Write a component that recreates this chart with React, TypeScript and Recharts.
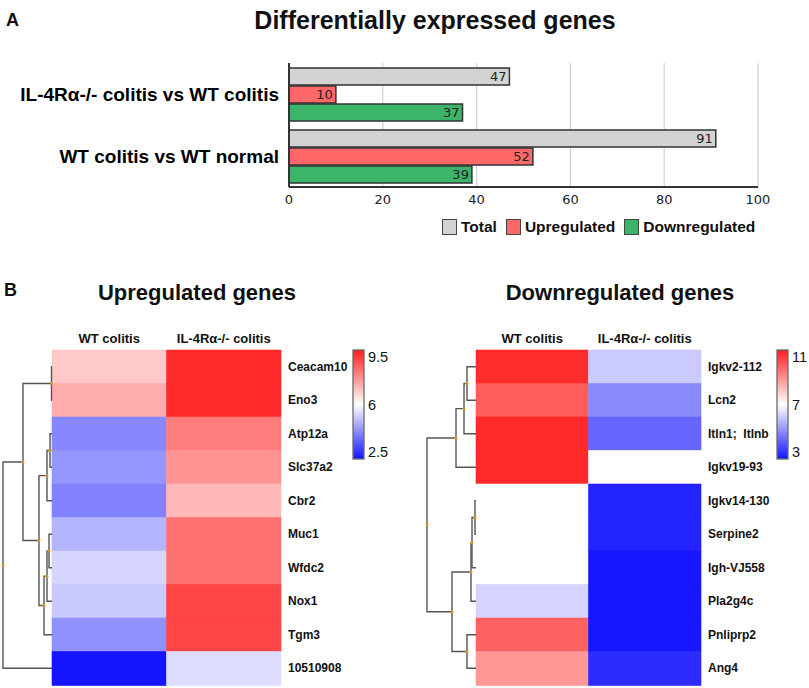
import React from 'react';
import { BarChart, Bar, XAxis, YAxis, CartesianGrid, Cell, LabelList } from 'recharts';

// ---------- Panel A data ----------
const comparisons = ['IL-4Rα-/- colitis vs WT colitis', 'WT colitis vs WT normal'];
const totalCounts = [47, 91];
const upCounts = [10, 52];
const downCounts = [37, 39];
const countTicks = [0, 20, 40, 60, 80, 100];
const seriesNames = ['Total', 'Upregulated', 'Downregulated'];
const seriesColors = ['#d3d3d3', '#ff6868', '#3cb46a'];

// ---------- Panel B data ----------
const heatColumns = ['WT colitis', 'IL-4Rα-/- colitis'];

const upGenes = ['Ceacam10', 'Eno3', 'Atp12a', 'Slc37a2', 'Cbr2', 'Muc1', 'Wfdc2', 'Nox1', 'Tgm3', '10510908'];
const upWT = [6.84, 7.27, 4.22, 4.43, 4.14, 4.9, 5.38, 5.2, 4.35, 2.5];
const upKO = [9.3, 9.3, 8.03, 7.68, 7.1, 8.2, 8.2, 8.9, 8.9, 5.5];
const upScale = [2.5, 6, 9.5];
const upScaleLabels = ['9.5', '6', '2.5'];
// merges: [childA, childB, height]; leaves 0..9, merge k becomes node 10+k
const upTree: [number, number, number][] = [
  [0, 1, 0.5], [2, 3, 2], [11, 4, 5], [5, 6, 3], [13, 7, 5], [14, 8, 8], [12, 15, 13], [10, 16, 29], [17, 9, 49],
];

const downGenes = ['Igkv2-112', 'Lcn2', 'Itln1;  Itlnb', 'Igkv19-93', 'Igkv14-130', 'Serpine2', 'Igh-VJ558', 'Pla2g4c', 'Pnliprp2', 'Ang4'];
const downWT = [10.75, 9.9, 10.8, 10.8, 7.0, 7.0, 7.0, 6.27, 9.8, 8.85];
const downKO = [6.1, 5.0, 4.4, 7.0, 3.25, 3.25, 3.05, 3.05, 3.05, 3.4];
const downScale = [3, 7, 11];
const downScaleLabels = ['11', '7', '3'];
const downTree: [number, number, number][] = [
  [0, 1, 9], [10, 2, 12], [11, 3, 20], [4, 5, 1], [13, 6, 4], [14, 7, 5], [8, 9, 9], [15, 16, 24], [12, 17, 49],
];

const SANS = '"Liberation Sans", Arial, Helvetica, sans-serif';
const NUM = '"DejaVu Sans", Verdana, sans-serif';

const HI = [255, 30, 30];
const LO = [20, 20, 255];

function heatColor(v: number, scale: number[]) {
  const [mn, md, mx] = scale;
  let t: number;
  let c: number[];
  if (v >= md) {
    t = Math.min(1, (v - md) / (mx - md));
    c = HI;
  } else {
    t = Math.min(1, (md - v) / (md - mn));
    c = LO;
  }
  const r = Math.round(255 + (c[0] - 255) * t);
  const g = Math.round(255 + (c[1] - 255) * t);
  const b = Math.round(255 + (c[2] - 255) * t);
  return `rgb(${r},${g},${b})`;
}

function Dendrogram({ tree, n, leafX, top, plotH }: { tree: [number, number, number][]; n: number; leafX: number; top: number; plotH: number }) {
  const rowH = plotH / n;
  const pos: { x: number; y: number }[] = [];
  for (let i = 0; i < n; i++) pos.push({ x: leafX, y: top + (i + 0.5) * rowH });
  const paths: React.ReactNode[] = [];
  const dots: React.ReactNode[] = [];
  tree.forEach(([a, b, h], k) => {
    const x = leafX - h;
    const pa = pos[a];
    const pb = pos[b];
    const y = (pa.y + pb.y) / 2;
    paths.push(<path key={'p' + k} d={`M${pa.x},${pa.y}H${x}V${pb.y}H${pb.x}`} fill="none" stroke="#555" strokeWidth={1.4} />);
    dots.push(<circle key={'d' + k} cx={x} cy={y} r={1.5} fill="#d49a1a" />);
    pos.push({ x, y });
  });
  return <g>{paths}{dots}</g>;
}

function ColorBar({ id, x, y, w, h, labels }: { id: string; x: number; y: number; w: number; h: number; labels: string[] }) {
  const lo = `rgb(${LO.join(',')})`;
  const hi = `rgb(${HI.join(',')})`;
  return (
    <g>
      <defs>
        <linearGradient id={id} x1="0" y1="0" x2="0" y2="1">
          <stop offset="0%" stopColor={hi} />
          <stop offset="50%" stopColor="#ffffff" />
          <stop offset="100%" stopColor={lo} />
        </linearGradient>
      </defs>
      <rect x={x} y={y} width={w} height={h} fill={`url(#${id})`} stroke="#6a6a6a" strokeWidth={1.3} />
      {labels.map((l, i) => (
        <text key={i} x={x + w + 4} y={y + 7 + (i * (h - 14)) / (labels.length - 1)} dy="0.35em" fontFamily={SANS} fontSize={14.5} fill="#111">
          {l}
        </text>
      ))}
    </g>
  );
}

function GeneTick(props: any) {
  const { x, y, payload } = props;
  return (
    <text x={x} y={y} dy="0.35em" textAnchor="start" fontFamily={SANS} fontWeight="bold" fontSize={12} fill="#111" style={{ whiteSpace: 'pre' }}>
      {payload.value}
    </text>
  );
}

function Heatmap({ genes, wt, ko, scale, left, top, width, height, margin }: any) {
  const rows = genes.map((g: string, i: number) => ({ gene: g, wtCell: 1, koCell: 1, wt: wt[i], ko: ko[i] }));
  return (
    <div style={{ position: 'absolute', left, top }}>
      <BarChart width={width} height={height} data={rows} layout="vertical" margin={margin} barCategoryGap={0}>
        <XAxis
          type="number"
          orientation="top"
          domain={[0, 2]}
          ticks={[0.5, 1.5]}
          interval={0}
          tickFormatter={(v: number) => heatColumns[Math.floor(v)]}
          axisLine={false}
          tickLine={false}
          tickSize={0}
          tickMargin={7}
          height={20}
          tick={{ fontSize: 13, fontWeight: 'bold', fill: '#111', fontFamily: SANS }}
        />
        <YAxis
          type="category"
          dataKey="gene"
          orientation="right"
          width={79}
          interval={0}
          axisLine={false}
          tickLine={false}
          tickSize={0}
          tickMargin={7}
          tick={<GeneTick />}
        />
        <Bar dataKey="wtCell" stackId="h" isAnimationActive={false}>
          {rows.map((r: any, i: number) => (
            <Cell key={i} fill={heatColor(r.wt, scale)} stroke={heatColor(r.wt, scale)} strokeWidth={0.6} />
          ))}
        </Bar>
        <Bar dataKey="koCell" stackId="h" isAnimationActive={false}>
          {rows.map((r: any, i: number) => (
            <Cell key={i} fill={heatColor(r.ko, scale)} stroke={heatColor(r.ko, scale)} strokeWidth={0.6} />
          ))}
        </Bar>
      </BarChart>
    </div>
  );
}

export default function App() {
  const aData = comparisons.map((c, i) => ({ name: c, total: totalCounts[i], up: upCounts[i], down: downCounts[i] }));
  const keys = ['total', 'up', 'down'];
  const frame = { stroke: '#333', strokeWidth: 2 };
  return (
    <div style={{ position: 'absolute', left: 0, top: 0, width: 809, height: 688, background: '#fff', overflow: 'hidden' }}>
      {/* Panel A */}
      <div style={{ position: 'absolute', left: 0, top: 0 }}>
        <BarChart width={809} height={250} data={aData} layout="vertical" margin={{ top: 63, right: 51, bottom: 33, left: 10 }} barCategoryGap="8%" barGap={1}>
          <CartesianGrid horizontal={false} stroke="#d2d2d2" strokeWidth={1.2} />
          <XAxis
            type="number"
            domain={[0, 100]}
            ticks={countTicks}
            interval={0}
            height={30}
            axisLine={frame}
            tickLine={false}
            tickSize={0}
            tickMargin={8}
            tick={{ fontSize: 13, fill: '#222', fontFamily: NUM }}
          />
          <XAxis xAxisId="top" orientation="top" type="number" domain={[0, 100]} height={0} tick={false} tickLine={false} axisLine={frame} />
          <YAxis
            type="category"
            dataKey="name"
            width={279}
            interval={0}
            axisLine={frame}
            tickLine={false}
            tickSize={0}
            tickMargin={10}
            tick={{ fontSize: 19, fontWeight: 'bold', fill: '#000', fontFamily: SANS }}
          />
          <YAxis yAxisId="right" orientation="right" type="category" dataKey="name" width={0} tick={false} tickLine={false} axisLine={frame} />
          {keys.map((k, i) => (
            <Bar key={k} dataKey={k} name={seriesNames[i]} fill={seriesColors[i]} stroke="#333" strokeWidth={1.5} isAnimationActive={false}>
              <LabelList dataKey={k} position="insideRight" offset={3} style={{ fontSize: 13, fill: '#222', fontFamily: NUM }} />
            </Bar>
          ))}
        </BarChart>
      </div>
      {/* Legend A */}
      <div style={{ position: 'absolute', left: 442, top: 218, display: 'flex', alignItems: 'center', fontFamily: SANS, fontWeight: 'bold', fontSize: 15.5, color: '#111', whiteSpace: 'nowrap' }}>
        {seriesNames.map((s, i) => (
          <div key={s} style={{ display: 'flex', alignItems: 'center', marginRight: 9 }}>
            <div style={{ width: 13, height: 14, background: seriesColors[i], border: '1.5px solid #444', marginRight: 4 }} />
            <span>{s}</span>
          </div>
        ))}
      </div>

      {/* Heatmaps */}
      <Heatmap genes={upGenes} wt={upWT} ko={upKO} scale={upScale} left={0} top={300} width={360} height={388} margin={{ top: 30, right: 0, bottom: 3, left: 52 }} />
      <Heatmap genes={downGenes} wt={downWT} ko={downKO} scale={downScale} left={400} top={300} width={380} height={388} margin={{ top: 30, right: 0, bottom: 3, left: 76 }} />

      {/* Overlay: titles, dendrograms, color bars */}
      <svg width={809} height={688} style={{ position: 'absolute', left: 0, top: 0, pointerEvents: 'none' }}>
        <text x={6} y={20} dy="0.35em" fontFamily={SANS} fontWeight="bold" fontSize={18} fill="#111">A</text>
        <text x={435} y={20} dy="0.35em" textAnchor="middle" fontFamily={SANS} fontWeight="bold" fontSize={25} fill="#111">Differentially expressed genes</text>
        <text x={4} y={290} dy="0.35em" fontFamily={SANS} fontWeight="bold" fontSize={18} fill="#111">B</text>
        <text x={197} y={292} dy="0.35em" textAnchor="middle" fontFamily={SANS} fontWeight="bold" fontSize={22} fill="#111">Upregulated genes</text>
        <text x={620} y={292} dy="0.35em" textAnchor="middle" fontFamily={SANS} fontWeight="bold" fontSize={22} fill="#111">Downregulated genes</text>
        <Dendrogram tree={upTree} n={upGenes.length} leafX={52} top={350} plotH={335} />
        <Dendrogram tree={downTree} n={downGenes.length} leafX={476} top={350} plotH={335} />
        <ColorBar id="gUp" x={353} y={350} w={11} h={109} labels={upScaleLabels} />
        <ColorBar id="gDown" x={777} y={350} w={11} h={109} labels={downScaleLabels} />
      </svg>
    </div>
  );
}
